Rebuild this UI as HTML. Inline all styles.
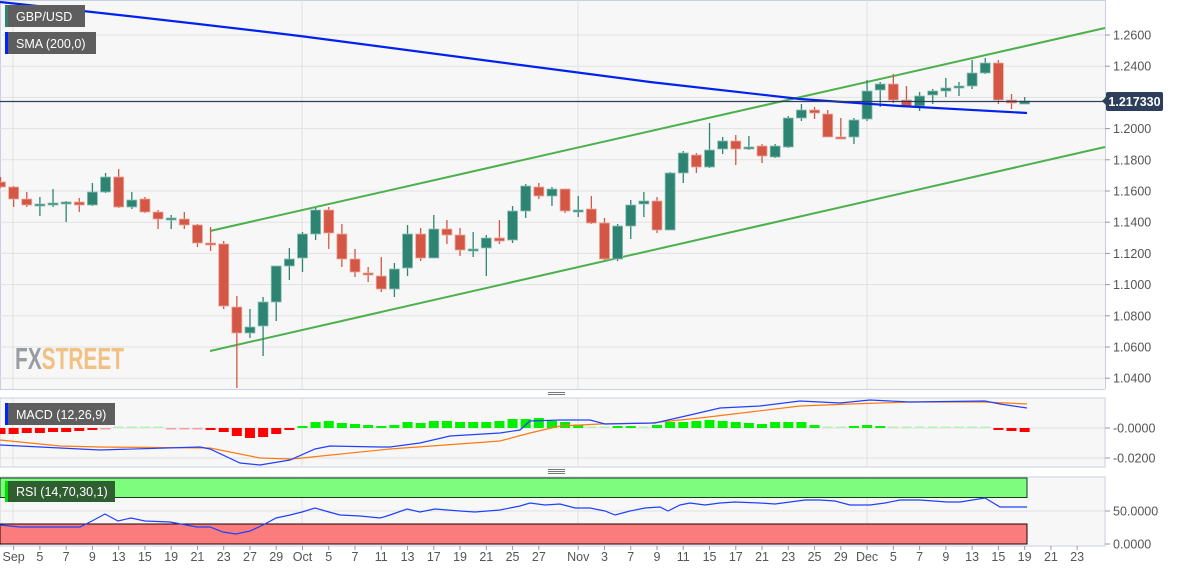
<!DOCTYPE html>
<html><head><meta charset="utf-8"><style>
html,body{margin:0;padding:0;background:#fff;}
svg{display:block;font-family:"Liberation Sans",sans-serif;}
</style></head><body>
<svg id="s" width="1182" height="571" xmlns="http://www.w3.org/2000/svg">
<rect x="0" y="0" width="1105" height="389" fill="#f7f7f7"/>
<rect x="0" y="398" width="1105" height="69" fill="#f7f7f7" stroke="#c8cfe0"/>
<rect x="0" y="477" width="1105" height="69" fill="#f7f7f7" stroke="#c8cfe0"/>
<line x1="1105.5" y1="0" x2="1105.5" y2="389" stroke="#c8cfe0"/>
<line x1="0" y1="389.5" x2="1105" y2="389.5" stroke="#c8cfe0"/>
<line x1="0.5" y1="0" x2="0.5" y2="389" stroke="#c8cfe0"/>
<line x1="0" y1="0.5" x2="1105" y2="0.5" stroke="#c8cfe0"/>
<g id="grid" stroke="#e2e2e2" stroke-width="1"></g>
<g id="main"></g>
<g id="ind"></g>
<g id="txt" font-size="12.5" fill="#555"></g>
<text x="15" y="369" font-size="31" font-weight="bold" textLength="109" lengthAdjust="spacingAndGlyphs"><tspan fill="#9a9ca3">FX</tspan><tspan fill="#f1c184">STREET</tspan></text>
<rect x="5" y="5" width="80" height="22" fill="#5e5e5e"/><rect x="5" y="5" width="3" height="22" fill="#2e8472"/>
<text x="16" y="21" font-size="12.5" fill="#fff">GBP/USD</text>
<rect x="5" y="32" width="91" height="22" fill="#5e5e5e"/><rect x="5" y="32" width="3" height="22" fill="#0022ff"/>
<text x="16" y="48" font-size="12.5" fill="#fff">SMA (200,0)</text>
<rect x="5" y="403" width="110" height="22" fill="#5e5e5e"/><rect x="5" y="403" width="3" height="22" fill="#0022ff"/>
<text x="16" y="419" font-size="12.5" fill="#fff">MACD (12,26,9)</text>
<rect x="1106" y="92" width="57" height="19" rx="2" fill="#2c3e5c"/>
<polygon points="1102,101 1106,97 1106,105" fill="#2c3e5c"/>
<text x="1134.5" y="106" font-size="12.5" font-weight="bold" fill="#fff" text-anchor="middle">1.217330</text>
<g fill="#777"><rect x="548" y="392" width="17" height="1"/><rect x="548" y="394" width="17" height="1"/><rect x="548" y="469" width="17" height="1"/><rect x="548" y="471" width="17" height="1"/><rect x="548" y="473" width="17" height="1"/></g>
</svg>
<script>
var NS="http://www.w3.org/2000/svg";
function el(p,t,a){var e=document.createElementNS(NS,t);for(var k in a)e.setAttribute(k,a[k]);p.appendChild(e);return e;}
var G=document.getElementById('grid'),M=document.getElementById('main'),I=document.getElementById('ind'),T=document.getElementById('txt');
function X(i){return 0.5+13.13*i;}
// price grid
var labs=["1.2600","1.2400","1.2200","1.2000","1.1800","1.1600","1.1400","1.1200","1.1000","1.0800","1.0600","1.0400"];
for(var k=0;k<labs.length;k++){var y=35+31.2*k;el(G,'line',{x1:0,x2:1105,y1:y,y2:y});
el(T,'line',{x1:1105,x2:1110,y1:y,y2:y,stroke:'#999'});
var t=el(T,'text',{x:1113,y:y+4.5});t.textContent=labs[k];}
[13,302,578,867].forEach(function(x){el(G,'line',{x1:x,x2:x,y1:0,y2:389});el(G,'line',{x1:x,x2:x,y1:398,y2:467});el(G,'line',{x1:x,x2:x,y1:477,y2:546});});
[428,458].forEach(function(y){el(G,'line',{x1:0,x2:1105,y1:y,y2:y});});
[511].forEach(function(y){el(G,'line',{x1:0,x2:1105,y1:y,y2:y});});
// RSI zones
el(I,'rect',{x:0,y:478,width:1027,height:19.5,fill:'#7dfc7d',stroke:'#1a3a1a','stroke-width':1});
el(I,'rect',{x:0,y:524,width:1027,height:20,fill:'#fa7c7c',stroke:'#200','stroke-width':1});
el(I,'rect',{x:5,y:481,width:110,height:21,fill:'#2f5f31'});el(I,'rect',{x:5,y:481,width:3,height:21,fill:'#00e000'});
var tt=el(I,'text',{x:16,y:496,'font-size':12.5,fill:'#fff'});tt.textContent="RSI (14,70,30,1)";
// channels
el(M,'line',{x1:210,y1:231,x2:1105,y2:28,stroke:'#4cb04c','stroke-width':2});
el(M,'line',{x1:210,y1:351,x2:1105,y2:147,stroke:'#4cb04c','stroke-width':2});
// candles
var C=[[182,187,177,188],[187,199,186,207],[199,205,192,207],[204.5,204,197,216],[203.5,203,189,207],[202.5,202,201,222],[202,205,198,212],[205,192,183,206],[192,177,173,193],[177,207,169,208],[207,200,192,209],[199,212,197,213],[212,219,210,229],[218.5,218,215,229],[219,225,212,229],[225,243,224,247],[243,243.5,227,251],[244,306,241,309],[307,333,296,388],[333,327,309,338],[326,302,297,356],[302,266,266,321],[266,259,248,280],[258,234,232,272],[234,210,208,240],[210,233,207,249],[234,259,224,267],[259,272,249,277],[273,275,267,282],[276,289,257,292],[289,269,263,297],[268,234,225,276],[234,258,228,261],[258,229,215,258],[229,235,220,244],[235,250,228,256],[249.5,249,232,257],[248,238,235,276],[238,241,220,244],[240,211,206,243],[211,186,184,218],[187,196,183,199],[196,189,187,206],[189,211,189,213],[210.5,210,196,217],[209,223,196,224],[223,259,218,260],[259,226,224,261],[226,205,200,239],[204,201,192,217],[201,230,197,233],[230,173,172,230],[173,153,151,183],[155,167,153,173],[167,150,123,168],[149,141,137,154],[141,149,135,165],[149,147,136,150],[146,156,144,163],[157,146,144,158],[147,118,116,148],[118,110,104,121],[110,113,107,119],[114,137,110,137],[137,137.5,118,138],[137,120,118,144],[119,91,80,121],[90,84,82,107],[84,100,74,103],[100,106,86,107],[106,96,92,111],[95,91,89,104],[91,88,78,97],[88,86,82,96],[86,73,60,89],[73,63,58,74],[63,100,60,104],[100,103,94,109],[104,101,97,104]];
C.forEach(function(c,i){var x=X(i),up=c[1]<c[0],col=up?'#2e8472':'#d45745';
el(M,'line',{x1:x,x2:x,y1:c[2],y2:c[3],stroke:col,'stroke-width':1.3});
var t=Math.min(c[0],c[1]),h=Math.max(Math.abs(c[1]-c[0]),2);
el(M,'rect',{x:x-5,y:t,width:10,height:h,fill:col,stroke:up?'#8fc0b5':'#eaa89e','stroke-width':0.8});});
// SMA
el(M,'path',{d:'M0,2 C150,18 300,36 300,36 L650,82 L800,99 L900,106 L1027,113',fill:'none',stroke:'#0022ee','stroke-width':2.2});
// price line
el(M,'line',{x1:0,x2:1105,y1:101.5,y2:101.5,stroke:'#2c3e5c','stroke-width':1.2});
// MACD hist
var H=[6,6,5,5,4,4,3,2,1,-1,-1,-1,-0.5,0.5,1,1.5,2,4,8,10,9,6,2,-2,-6,-7,-5,-4,-3,-2,-3,-6,-5,-7,-7,-6,-6,-6,-7,-9,-9,-10,-7,-6,-3.5,-1,-0.5,-2,-2,-1,-3,-6,-6,-7,-8,-7,-6,-5,-4,-6,-6,-6,-3,-1,-1,-2,-3,-2,-1.5,-1,-1.5,-1,-0.5,-1,-1,-0.5,2,3,4];
H.forEach(function(v,i){var x=X(i);var a=Math.abs(v),h=Math.max(a,1.5);var col=v<0?(a>1.5?'#00f000':'#b8f0b8'):(a>1.5?'#ff0000':'#f4a0a0');
el(I,'rect',{x:x-5,y:v<0?428-h:428,width:10,height:h,fill:col});});
function pl(pts,col,w){el(I,'polyline',{points:pts,fill:'none',stroke:col,'stroke-width':w||1.2});}
pl('0,440 60,446 100,447 210,448 260,458 290,459 302,458 390,449 500,441 530,433 560,426 600,424 650,423 700,418 750,412 800,406 850,404 910,402 985,402 1027,404','#ff7a10');
pl('0,445 40,447 100,450 200,447 210,449 240,463 260,465 290,460 315,449 330,446 380,447 390,447 420,443 450,436 500,433 520,430 530,421 560,420 590,420 605,424 655,423 690,415 720,408 760,406 800,401 840,403 870,400 910,402 985,401 1000,404 1027,408','#2040ff');
pl('0,525 20,527 80,527 92,521 105,514 118,521 131,518 145,521 170,522 197,527 210,527 223,532 236,534 250,531 263,525 276,518 290,515 302,512 315,508 329,512 340,515 360,516 380,518 390,515 407,509 420,512 435,509 460,511 475,512 500,510 520,506 530,503 545,505 560,504 575,508 590,508 605,511 615,515 630,511 645,508 660,507 668,511 680,505 690,503 705,505 720,503 735,502 760,503 775,504 790,502 805,500 820,500 835,501 850,505 870,505 885,503 900,500 920,500 947,502 960,502 985,498 1000,507 1027,507','#2040ff');
// indicator axis labels
[[428,"-0.0000"],[458,"-0.0200"],[511,"50.0000"],[544,"0.0000"]].forEach(function(a){el(T,'line',{x1:1105,x2:1110,y1:a[0],y2:a[0],stroke:'#999'});var t=el(T,'text',{x:1113,y:a[0]+4.5});t.textContent=a[1];});
// x labels
var XL={1:"Sep",3:"5",5:"7",7:"9",9:"13",11:"15",13:"19",15:"21",17:"23",19:"27",21:"29",23:"Oct",25:"5",27:"7",29:"11",31:"13",33:"17",35:"19",37:"21",39:"25",41:"27",44:"Nov",46:"3",48:"7",50:"9",52:"11",54:"15",56:"17",58:"21",60:"23",62:"25",64:"29",66:"Dec",68:"5",70:"7",72:"9",74:"13",76:"15",78:"19",80:"21",82:"23"};
for(var i in XL){var x=X(+i);el(T,'line',{x1:x,x2:x,y1:546,y2:550,stroke:'#999'});var t=el(T,'text',{x:x,y:561,'text-anchor':'middle'});t.textContent=XL[i];}
</script>
</body></html>
